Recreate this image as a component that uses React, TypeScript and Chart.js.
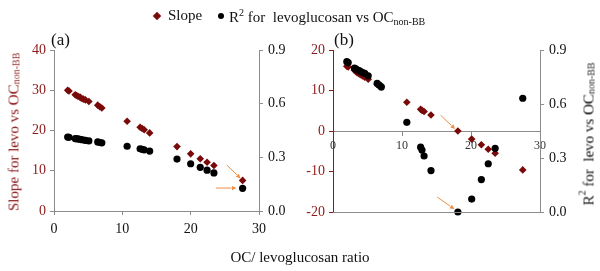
import React, { useEffect, useRef } from "react";
import { Chart, registerables } from "chart.js";

Chart.register(...registerables);

// ---- data ----
const ratioA = [2.0, 2.2, 3.1, 3.3, 3.5, 3.8, 4.0, 4.3, 4.6, 5.1, 6.4, 6.7, 7.0, 10.7, 12.6, 12.9, 13.2, 14.0, 18.0, 20.0, 21.4, 22.4, 23.4, 27.6];
const slopeA = [30.0, 29.8, 28.9, 28.7, 28.5, 28.3, 28.0, 27.8, 27.6, 27.2, 26.3, 25.9, 25.6, 22.3, 20.8, 20.5, 20.2, 19.4, 16.0, 14.2, 13.0, 12.1, 11.3, 7.6];
const r2A = [0.413, 0.412, 0.405, 0.404, 0.403, 0.401, 0.399, 0.397, 0.395, 0.392, 0.386, 0.383, 0.381, 0.362, 0.348, 0.345, 0.342, 0.335, 0.29, 0.264, 0.244, 0.228, 0.213, 0.127];

const ratioB = [2.0, 2.2, 3.1, 3.3, 3.5, 3.8, 4.0, 4.3, 4.6, 5.1, 6.4, 6.7, 7.0, 10.7, 12.7, 12.9, 13.2, 14.2, 18.1, 20.1, 21.5, 22.5, 23.5, 27.5];
const slopeB = [16.0, 15.8, 15.0, 14.7, 14.4, 14.1, 13.9, 13.6, 13.3, 12.8, 11.5, 11.2, 10.9, 7.1, 5.35, 5.1, 4.8, 3.95, 0.0, -2.0, -3.4, -4.5, -5.5, -9.6];
const r2B = [0.835, 0.83, 0.8, 0.795, 0.79, 0.785, 0.78, 0.775, 0.77, 0.757, 0.715, 0.705, 0.695, 0.498, 0.36, 0.344, 0.311, 0.23, 0.0, 0.072, 0.18, 0.268, 0.354, 0.632];

const xTicks = [0, 10, 20, 30];
const slopeTicksA = [0, 10, 20, 30, 40];
const slopeTicksB = [-20, -10, 0, 10, 20];
const r2Ticks = [0.0, 0.3, 0.6, 0.9];

// arrows: [x1, y1, x2, y2] in (ratio, slope-axis) units
const arrowsA = [
  [25.3, 11.4, 27.3, 8.1],
  [23.7, 5.7, 26.7, 5.7],
];
const arrowsB = [
  [15.6, 3.9, 17.7, 0.5],
  [15.1, -16.3, 17.6, -19.3],
];

const RED = "#8B1A1A";
const DOT_RED = "#7A0A0A";
const GRAY = "#8c8c8c";
const ORANGE = "#EE8E45";
const FONT = "'Liberation Serif', 'Times New Roman', serif";

function makePlugin(arrows: number[][], bottomLine: boolean) {
  return {
    id: "extras",
    afterDatasetsDraw(chart: any) {
      const ctx = chart.ctx;
      const xs = chart.scales.x;
      const ys = chart.scales.y;
      const ca = chart.chartArea;
      ctx.save();
      if (bottomLine) {
        ctx.strokeStyle = GRAY;
        ctx.lineWidth = 1;
        ctx.beginPath();
        ctx.moveTo(ca.left, Math.round(ca.bottom) + 0.5);
        ctx.lineTo(ca.right, Math.round(ca.bottom) + 0.5);
        ctx.stroke();
      }
      ctx.strokeStyle = ORANGE;
      ctx.fillStyle = ORANGE;
      ctx.lineWidth = 1;
      for (const a of arrows) {
        const x1 = xs.getPixelForValue(a[0]);
        const y1 = ys.getPixelForValue(a[1]);
        const x2 = xs.getPixelForValue(a[2]);
        const y2 = ys.getPixelForValue(a[3]);
        const ang = Math.atan2(y2 - y1, x2 - x1);
        const hl = 5;
        ctx.beginPath();
        ctx.moveTo(x1, y1);
        ctx.lineTo(x2 - Math.cos(ang) * hl, y2 - Math.sin(ang) * hl);
        ctx.stroke();
        ctx.beginPath();
        ctx.moveTo(x2, y2);
        ctx.lineTo(x2 - Math.cos(ang - 0.45) * hl, y2 - Math.sin(ang - 0.45) * hl);
        ctx.lineTo(x2 - Math.cos(ang + 0.45) * hl, y2 - Math.sin(ang + 0.45) * hl);
        ctx.closePath();
        ctx.fill();
      }
      ctx.restore();
    },
  };
}

function buildConfig(panel: "a" | "b"): any {
  const ratio = panel === "a" ? ratioA : ratioB;
  const slope = panel === "a" ? slopeA : slopeB;
  const r2 = panel === "a" ? r2A : r2B;
  const sTicks = panel === "a" ? slopeTicksA : slopeTicksB;
  const leftW = panel === "a" ? 54 : 33;
  const rightW = panel === "a" ? 41 : 60;
  return {
    type: "scatter",
    data: {
      datasets: [
        {
          label: "Slope",
          data: ratio.map((x, i) => ({ x, y: slope[i] })),
          yAxisID: "y",
          pointStyle: "rectRot",
          pointRadius: 3.8,
          backgroundColor: DOT_RED,
          borderColor: DOT_RED,
          borderWidth: 0,
          clip: false,
          order: 2,
        },
        {
          label: "R2",
          data: ratio.map((x, i) => ({ x, y: r2[i] })),
          yAxisID: "y1",
          pointStyle: "circle",
          pointRadius: 3.6,
          backgroundColor: "#000",
          borderColor: "#000",
          borderWidth: 0,
          clip: false,
          order: panel === "a" ? 1 : 0,
        },
      ],
    },
    options: {
      animation: false,
      responsive: false,
      maintainAspectRatio: false,
      events: [],
      layout: {
        padding: { top: 50, left: 0, right: 0, bottom: panel === "a" ? 0 : 59 },
      },
      plugins: { legend: { display: false }, tooltip: { enabled: false } },
      scales: {
        x: {
          type: "linear",
          min: 0,
          max: 30,
          position: panel === "a" ? "bottom" : { y: 0 },
          afterBuildTicks: (s: any) => {
            s.ticks = xTicks.map((v) => ({ value: v }));
          },
          afterFit: (s: any) => {
            if (panel === "a") s.height = 60;
          },
          border: { display: true, color: GRAY, width: 1 },
          grid: { display: true, drawOnChartArea: false, drawTicks: true, tickLength: 4, color: GRAY },
          ticks: {
            color: panel === "a" ? "#111" : "#333",
            font: { family: FONT, size: panel === "a" ? 14 : 12 },
            padding: panel === "a" ? 6 : 4,
            maxRotation: 0,
          },
        },
        y: {
          type: "linear",
          position: "left",
          min: sTicks[0],
          max: sTicks[sTicks.length - 1],
          afterBuildTicks: (s: any) => {
            s.ticks = sTicks.map((v) => ({ value: v }));
          },
          afterFit: (s: any) => {
            s.width = leftW;
          },
          border: { display: true, color: panel === "a" ? GRAY : RED, width: 1 },
          grid: { display: true, drawOnChartArea: false, drawTicks: true, tickLength: 4, color: panel === "a" ? GRAY : RED },
          ticks: {
            color: RED,
            font: { family: FONT, size: 14 },
            padding: 4,
          },
        },
        y1: {
          type: "linear",
          position: "right",
          min: 0,
          max: 0.9,
          afterBuildTicks: (s: any) => {
            s.ticks = r2Ticks.map((v) => ({ value: v }));
          },
          afterFit: (s: any) => {
            s.width = rightW;
          },
          border: { display: true, color: GRAY, width: 1 },
          grid: { display: true, drawOnChartArea: false, drawTicks: true, tickLength: 4, color: GRAY },
          ticks: {
            color: "#111",
            font: { family: FONT, size: 14 },
            padding: 5,
            callback: (v: any) => Number(v).toFixed(1),
          },
        },
      },
    },
    plugins: [makePlugin(panel === "a" ? arrowsA : arrowsB, panel === "b")],
  };
}

function Panel({ panel, left }: { panel: "a" | "b"; left: number }) {
  const ref = useRef<HTMLCanvasElement>(null);
  useEffect(() => {
    if (!ref.current) return;
    const chart = new Chart(ref.current, buildConfig(panel));
    return () => chart.destroy();
  }, [panel]);
  return (
    <canvas
      ref={ref}
      width={300}
      height={271}
      style={{ position: "absolute", left, top: 0, width: 300, height: 271 }}
    />
  );
}

const textBase: React.CSSProperties = {
  position: "absolute",
  fontFamily: FONT,
  whiteSpace: "nowrap",
  lineHeight: 1,
  color: "#111",
  fontWeight: 400,
};

const vertical: React.CSSProperties = {
  writingMode: "vertical-rl",
  transform: "translate(-50%, -50%) rotate(180deg)",
};

export default function App() {
  useEffect(() => {
    document.body.style.margin = "0";
  }, []);
  return (
    <div style={{ position: "relative", width: 600, height: 271, background: "#fff", overflow: "hidden" }}>
      <Panel panel="a" left={0} />
      <Panel panel="b" left={300} />

      {/* legend */}
      <div
        style={{
          position: "absolute",
          left: 154,
          top: 13,
          width: 6,
          height: 6,
          background: DOT_RED,
          transform: "rotate(45deg)",
        }}
      />
      <div style={{ ...textBase, left: 168, top: 8, fontSize: 15 }}>Slope</div>
      <div
        style={{
          position: "absolute",
          left: 218,
          top: 13,
          width: 6,
          height: 6,
          borderRadius: 3,
          background: "#000",
        }}
      />
      <div style={{ ...textBase, left: 229, top: 8, fontSize: 15 }}>
        R<sup style={{ fontSize: 10, verticalAlign: 6 }}>2</sup> for&nbsp; levoglucosan vs OC
        <sub style={{ fontSize: 10, verticalAlign: -3 }}>non-BB</sub>
      </div>

      {/* panel labels */}
      <div style={{ ...textBase, left: 51, top: 31, fontSize: 17 }}>(a)</div>
      <div style={{ ...textBase, left: 334, top: 31, fontSize: 17 }}>(b)</div>

      {/* x title */}
      <div style={{ ...textBase, left: 300, top: 250, fontSize: 15, transform: "translateX(-50%)" }}>
        OC/ levoglucosan ratio
      </div>

      {/* left y title */}
      <div style={{ ...textBase, ...vertical, left: 14, top: 132, fontSize: 15, color: RED }}>
        Slope for levo vs OC<sub style={{ fontSize: 10, verticalAlign: -3 }}>non-BB</sub>
      </div>

      {/* right y title */}
      <div style={{ ...textBase, ...vertical, left: 587, top: 134, fontSize: 15 }}>
        R<sup style={{ fontSize: 10, verticalAlign: 6 }}>2</sup> for&nbsp; levo vs OC
        <sub style={{ fontSize: 10, verticalAlign: -3 }}>non-BB</sub>
      </div>
    </div>
  );
}
